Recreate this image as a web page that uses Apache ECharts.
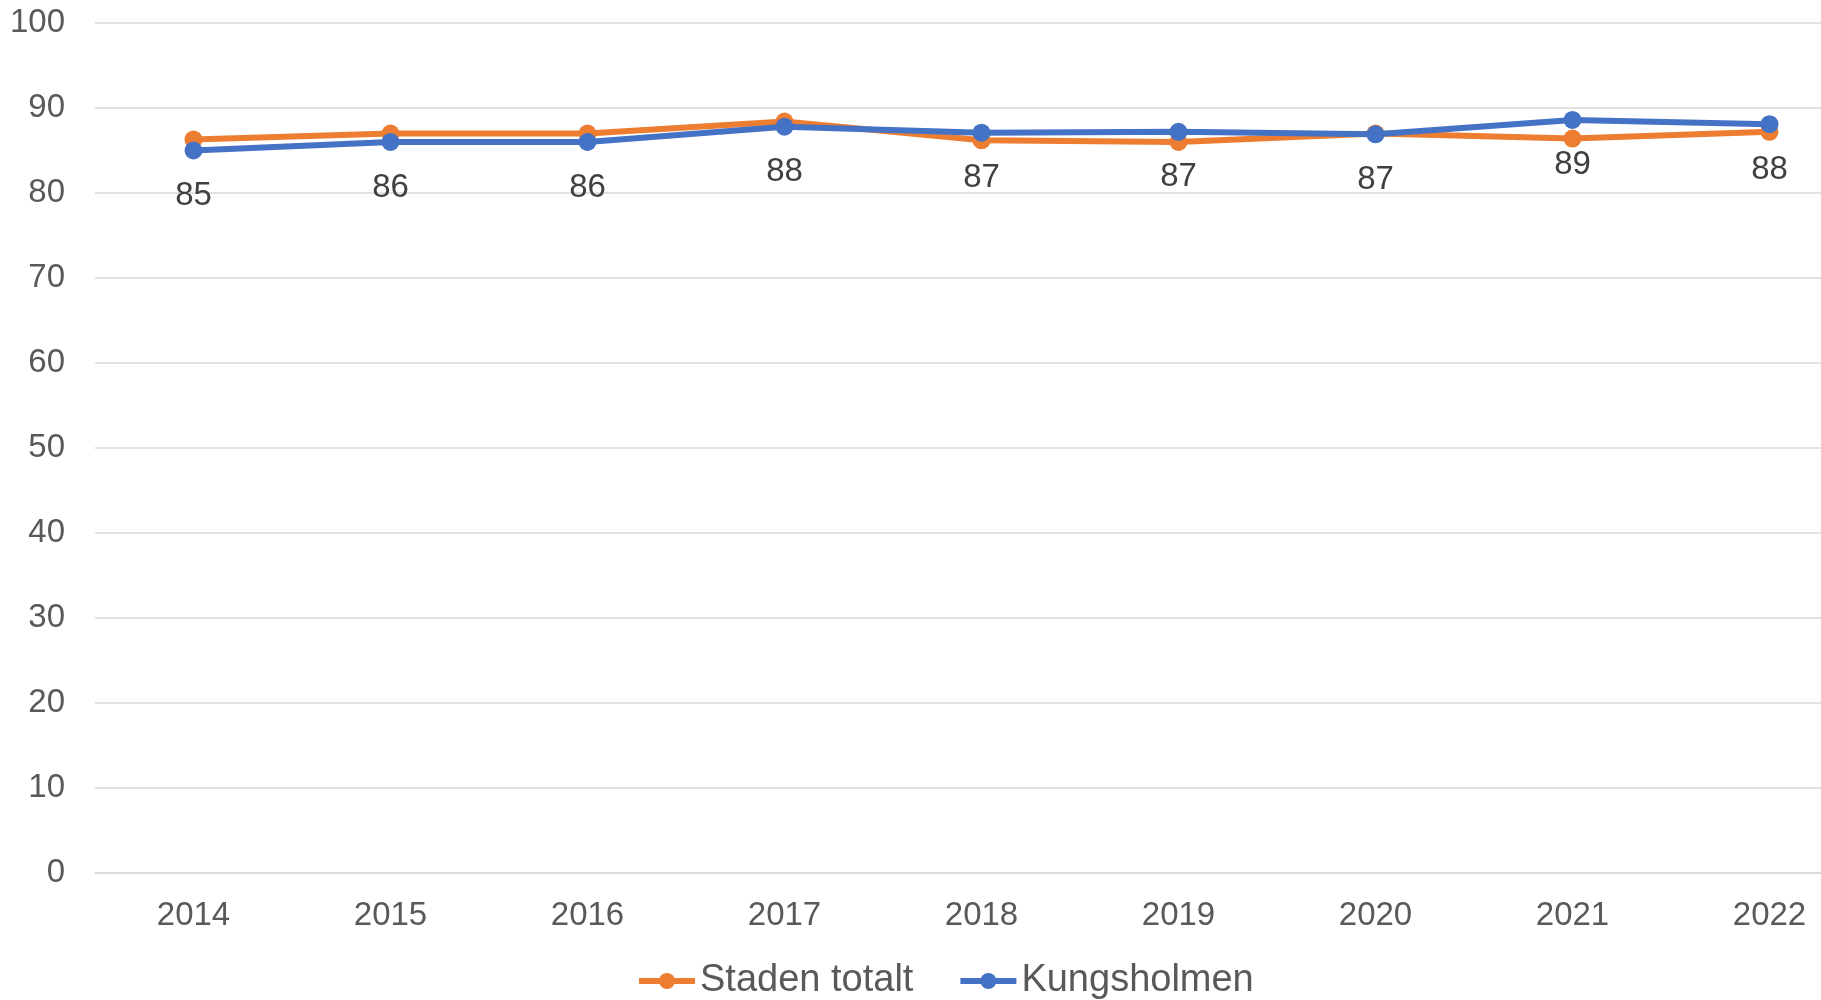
<!DOCTYPE html>
<html>
<head>
<meta charset="utf-8">
<script src="https://cdn.jsdelivr.net/npm/echarts@6/dist/echarts.min.js"></script>
<style>html,body{margin:0;padding:0;background:#fff}#c{width:1821px;height:1000px}</style>
</head>
<body>
<div id="c"></div>
<script>
var years = ['2014','2015','2016','2017','2018','2019','2020','2021','2022'];
var stadenTotalt = [86.3, 87.0, 87.0, 88.4, 86.2, 86.0, 87.0, 86.4, 87.2];
var kungsholmen = [85.0, 86.0, 86.0, 87.8, 87.1, 87.2, 86.9, 88.6, 88.1];
var yTicks = [0, 10, 20, 30, 40, 50, 60, 70, 80, 90, 100];

var font = 'Liberation Sans, Arial, sans-serif';
var chart = echarts.init(document.getElementById('c'));
chart.setOption({
  animation: false,
  backgroundColor: '#fff',
  textStyle: { fontFamily: font },
  grid: { left: 95, top: 23, width: 1773, height: 850, containLabel: false, outerBoundsMode: 'none' },
  legend: {
    left: 631, top: 957,
    itemWidth: 56, itemHeight: 20, itemGap: 44,
    lineStyle: { width: 6 },
    textStyle: { fontSize: 38, color: '#595959', fontFamily: font },
    data: ['Staden totalt', 'Kungsholmen']
  },
  xAxis: {
    type: 'category', data: years, boundaryGap: true,
    axisLine: { show: true, lineStyle: { color: '#d9d9d9', width: 1.5 } },
    axisTick: { show: false },
    axisLabel: { fontSize: 33, color: '#595959', margin: 26, fontFamily: font }
  },
  yAxis: {
    type: 'value', min: yTicks[0], max: yTicks[yTicks.length - 1], interval: 10,
    axisLine: { show: false }, axisTick: { show: false },
    axisLabel: { fontSize: 33, color: '#595959', margin: 30, fontFamily: font },
    splitLine: { lineStyle: { color: '#d9d9d9', width: 1.5 } }
  },
  series: [
    {
      name: 'Staden totalt', type: 'line', data: stadenTotalt,
      color: '#ED7D31', symbol: 'circle', symbolSize: 18,
      lineStyle: { width: 6, color: '#ED7D31' },
      itemStyle: { color: '#ED7D31' },
      z: 2
    },
    {
      name: 'Kungsholmen', type: 'line', data: kungsholmen,
      color: '#4472C4', symbol: 'circle', symbolSize: 18,
      lineStyle: { width: 6, color: '#4472C4' },
      itemStyle: { color: '#4472C4' },
      z: 3,
      label: {
        show: true, position: 'bottom', distance: 20,
        fontSize: 33, color: '#404040', fontFamily: font,
        formatter: function (p) { return Math.round(p.value); }
      }
    }
  ]
});
</script>
</body>
</html>
